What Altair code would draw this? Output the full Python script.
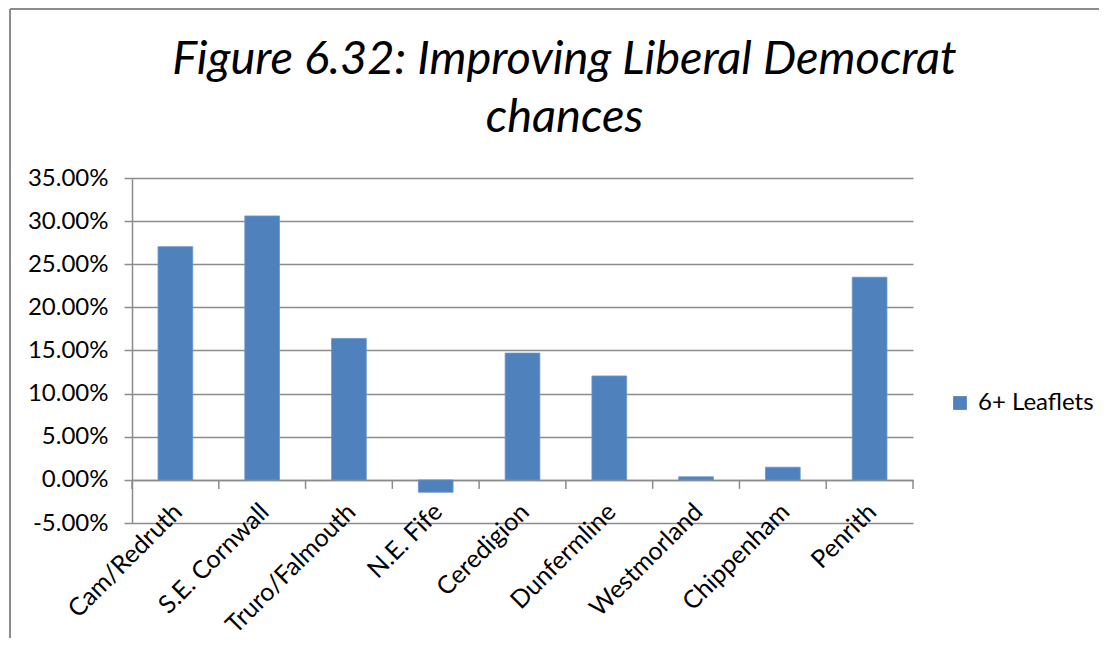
import altair as alt
import pandas as pd

categories = ["Cam/Redruth", "S.E. Cornwall", "Truro/Falmouth", "N.E. Fife", "Ceredigion",
              "Dunfermline", "Westmorland", "Chippenham", "Penrith"]
values = [0.2704, 0.3060, 0.1640, -0.0144, 0.1470, 0.1205, 0.0035, 0.0147, 0.2350]
series = ["6+ Leaflets"] * len(categories)
y_ticks = [-0.05, 0.0, 0.05, 0.10, 0.15, 0.20, 0.25, 0.30, 0.35]

df = pd.DataFrame({"constituency": categories, "value": values, "series": series})

FONT = "Lato"
GRID = "#8C8C8C"
W, H = 781, 345
STEP = W / len(categories)
zero_offset = -H * 0.05 / 0.40  # move category axis to the zero line
zero_px = H * 0.35 / 0.40

x_enc = alt.X("constituency:N", sort=categories, title=None,
              scale=alt.Scale(paddingInner=0.6, paddingOuter=0.3),
              axis=alt.Axis(offset=zero_offset, labelAngle=-45, labelAlign="right",
                            labelBaseline="top", labelOffset=-6, labelPadding=19,
                            labelFontSize=25, labelFont=FONT, labelColor="#000000",
                            domainColor=GRID, domainWidth=1.5, ticks=False,
                            grid=False, labelOverlap=False))

bars = alt.Chart(df).mark_bar(color="#4F81BD", stroke="#6A95CB", strokeWidth=0.8).encode(
    x=x_enc,
    y=alt.Y("value:Q", title=None,
            scale=alt.Scale(domain=[-0.05, 0.35], nice=False, zero=False),
            axis=alt.Axis(values=y_ticks,
                          labelExpr="replace(format(datum.value, '.2%'), '\u2212', '-')",
                          labelFontSize=24, labelFont=FONT,
                          labelColor="#000000", labelPadding=16, tickSize=8, tickColor=GRID,
                          tickWidth=1.5, domainColor=GRID, domainWidth=1.5, grid=True,
                          gridColor=GRID, gridWidth=1.5)),
    color=alt.Color("series:N", scale=alt.Scale(domain=["6+ Leaflets"], range=["#4F81BD"]),
                    legend=alt.Legend(title=None, orient="none", legendX=816, legendY=213,
                                      symbolType="square", symbolSize=190,
                                      symbolStrokeWidth=0, labelFontSize=24,
                                      labelFont=FONT, labelColor="#000000", labelOffset=6)),
)

# category tick marks at the band boundaries, hanging below the zero line
ticks_left = alt.Chart(df).mark_rule(color=GRID, strokeWidth=1.5, xOffset=-STEP / 2).encode(
    x=alt.X("constituency:N", sort=categories), y=alt.value(zero_px), y2=alt.value(zero_px + 9))
ticks_end = alt.Chart(df).transform_filter(
    alt.datum.constituency == categories[-1]
).mark_rule(color=GRID, strokeWidth=1.5, xOffset=STEP / 2).encode(
    x=alt.X("constituency:N", sort=categories), y=alt.value(zero_px), y2=alt.value(zero_px + 9))

border_left = alt.Chart(df).mark_rule(color="#8C8C8C", strokeWidth=1.5).encode(
    x=alt.value(-122), y=alt.value(-169), y2=alt.value(470))
border_top = alt.Chart(df).mark_rule(color="#8C8C8C", strokeWidth=1.5).encode(
    x=alt.value(-122), x2=alt.value(980), y=alt.value(-169))

chart = alt.layer(bars, ticks_left, ticks_end, border_left, border_top).properties(
    width=W, height=H,
    autosize=alt.AutoSizeParams(type="none"),
    padding={"left": 124, "top": 170, "right": 186, "bottom": 115},
    title=alt.Title(["Figure 6.32: Improving Liberal Democrat", "chances"],
                    font=FONT, fontSize=47, fontStyle="italic", fontWeight="normal",
                    color="#000000", anchor="middle", frame="group", dx=42,
                    lineHeight=58, offset=0, dy=134),
).configure_view(stroke=None)

chart.save("out.html", embed_options={"renderer": "svg", "actions": False})
